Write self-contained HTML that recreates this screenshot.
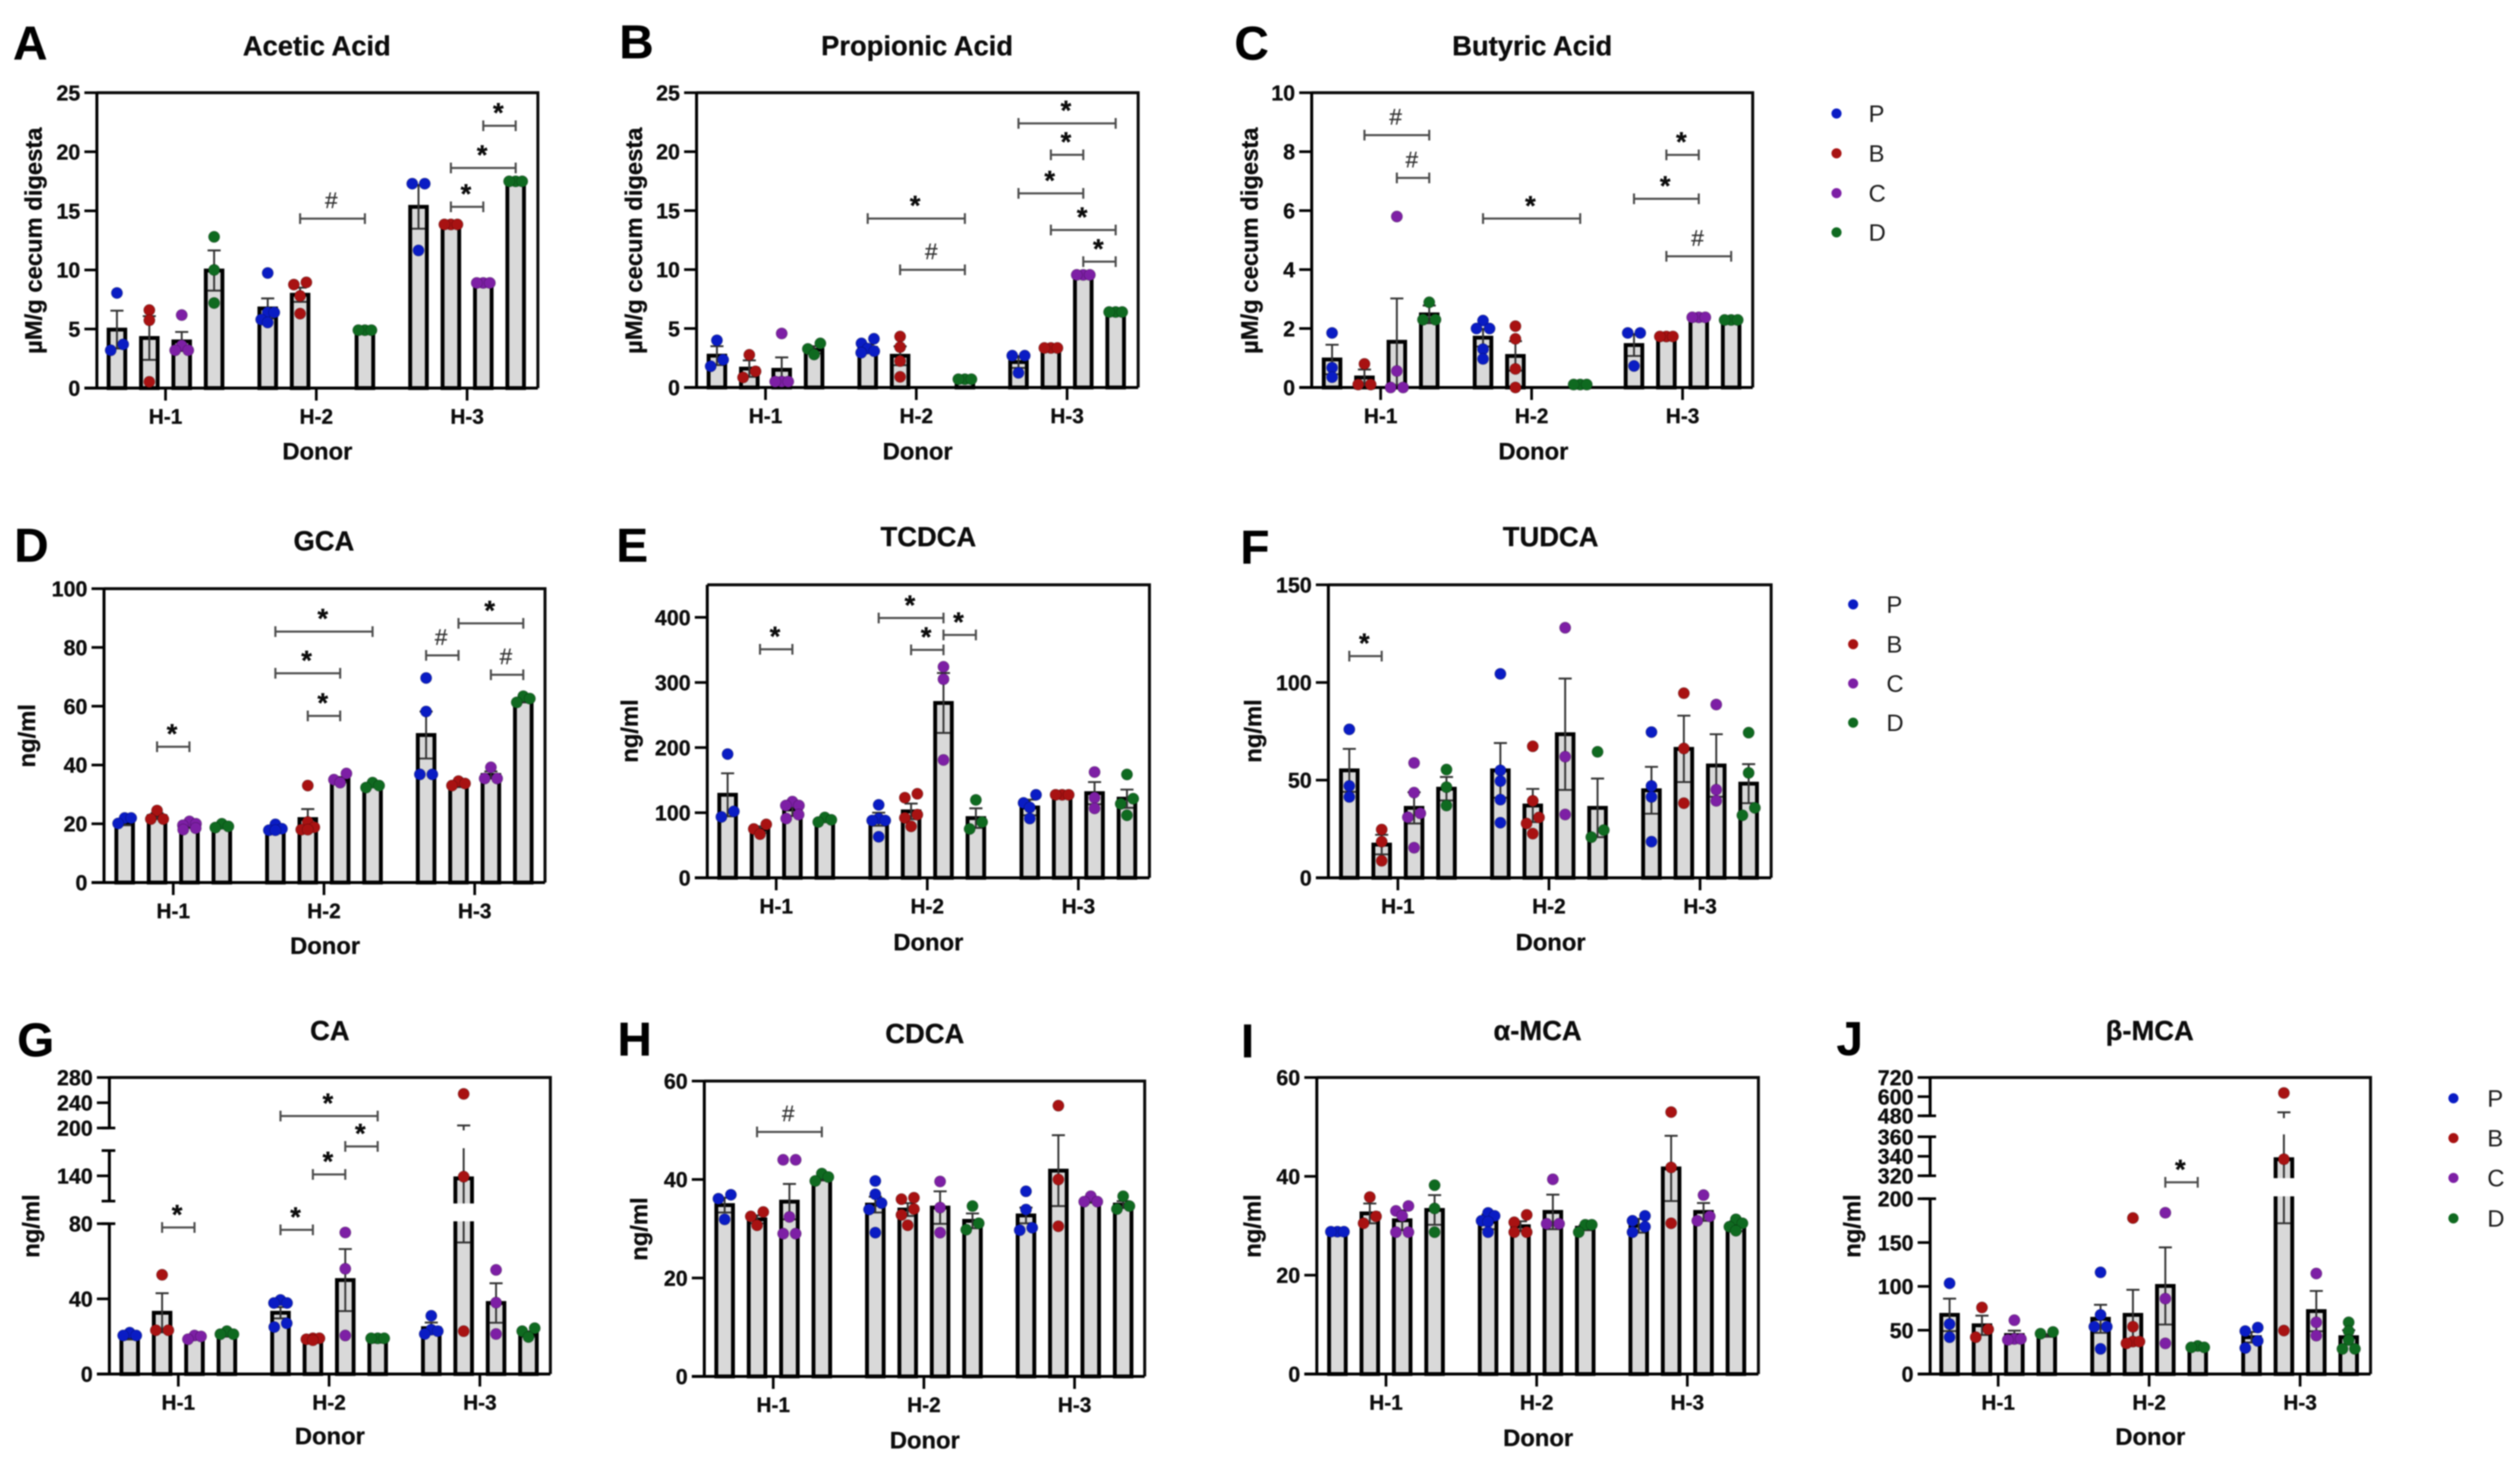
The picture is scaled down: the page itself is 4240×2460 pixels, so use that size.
<!DOCTYPE html>
<html lang="en">
<head>
<meta charset="utf-8">
<title>Cecal metabolites by donor</title>
<style>
html,body{margin:0;padding:0;background:#fff;}
svg{display:block;filter:blur(1px);}
text{font-family:"Liberation Sans",sans-serif;fill:#0c0c0c;stroke:#0c0c0c;stroke-width:.5px;}
.title{font-weight:700;font-size:46px;text-anchor:middle;}
.letter{font-weight:700;font-size:80px;fill:#000;}
.xtitle{font-weight:700;font-size:40px;text-anchor:middle;}
.ytitle{font-weight:700;font-size:40px;text-anchor:middle;}
.legend-label{font-size:40px;fill:#1c1c1c;stroke:none;}
</style>
</head>
<body>
<svg id="figure" width="4240" height="2460" viewBox="0 0 4240 2460" xmlns="http://www.w3.org/2000/svg">
<rect width="4240" height="2460" fill="#fff"/>
<defs id="clip-defs"></defs>

<g id="panel-a">
<text class="letter" x="22" y="100">A</text>
<text class="title" x="533" y="93">Acetic Acid</text>
<text class="ytitle" transform="translate(70,405) rotate(-90)">µM/g cecum digesta</text>
<text class="xtitle" x="534" y="773">Donor</text>
</g>
<g id="panel-b">
<text class="letter" x="1042" y="98">B</text>
<text class="title" x="1543" y="93">Propionic Acid</text>
<text class="ytitle" transform="translate(1080,405) rotate(-90)">µM/g cecum digesta</text>
<text class="xtitle" x="1544" y="773">Donor</text>
</g>
<g id="panel-c">
<text class="letter" x="2077" y="100">C</text>
<text class="title" x="2578" y="93">Butyric Acid</text>
<text class="ytitle" transform="translate(2116,405) rotate(-90)">µM/g cecum digesta</text>
<text class="xtitle" x="2580" y="773">Donor</text>
</g>
<g id="panel-d">
<text class="letter" x="24" y="945">D</text>
<text class="title" x="545" y="926">GCA</text>
<text class="ytitle" transform="translate(59,1238) rotate(-90)">ng/ml</text>
<text class="xtitle" x="547" y="1605">Donor</text>
</g>
<g id="panel-e">
<text class="letter" x="1037" y="945">E</text>
<text class="title" x="1562" y="919">TCDCA</text>
<text class="ytitle" transform="translate(1073,1230) rotate(-90)">ng/ml</text>
<text class="xtitle" x="1562" y="1599">Donor</text>
</g>
<g id="panel-f">
<text class="letter" x="2087" y="948">F</text>
<text class="title" x="2609" y="919">TUDCA</text>
<text class="ytitle" transform="translate(2122,1230) rotate(-90)">ng/ml</text>
<text class="xtitle" x="2609" y="1599">Donor</text>
</g>
<g id="panel-g">
<text class="letter" x="29" y="1777">G</text>
<text class="title" x="555" y="1750">CA</text>
<text class="ytitle" transform="translate(66,2063) rotate(-90)">ng/ml</text>
<text class="xtitle" x="555" y="2430">Donor</text>
</g>
<g id="panel-h">
<text class="letter" x="1039" y="1776">H</text>
<text class="title" x="1556" y="1755">CDCA</text>
<text class="ytitle" transform="translate(1089,2068) rotate(-90)">ng/ml</text>
<text class="xtitle" x="1556" y="2437">Donor</text>
</g>
<g id="panel-i">
<text class="letter" x="2088" y="1779">I</text>
<text class="title" x="2587" y="1750">α-MCA</text>
<text class="ytitle" transform="translate(2121,2063) rotate(-90)">ng/ml</text>
<text class="xtitle" x="2588" y="2433">Donor</text>
</g>
<g id="panel-j">
<text class="letter" x="3090" y="1775">J</text>
<text class="title" x="3617" y="1750">β-MCA</text>
<text class="ytitle" transform="translate(3130,2063) rotate(-90)">ng/ml</text>
<text class="xtitle" x="3618" y="2431">Donor</text>
</g>

<g>
<g><circle cx="3090" cy="191" r="8.5" fill="#0a1cc4"/><text class="legend-label" x="3144" y="205">P</text></g>
<g><circle cx="3090" cy="258" r="8.5" fill="#a81212"/><text class="legend-label" x="3144" y="272">B</text></g>
<g><circle cx="3090" cy="325" r="8.5" fill="#7d1fa5"/><text class="legend-label" x="3144" y="339">C</text></g>
<g><circle cx="3090" cy="391" r="8.5" fill="#0f6a20"/><text class="legend-label" x="3144" y="405">D</text></g>
</g>
<g>
<g><circle cx="3118" cy="1017" r="8.5" fill="#0a1cc4"/><text class="legend-label" x="3174" y="1031">P</text></g>
<g><circle cx="3118" cy="1084" r="8.5" fill="#a81212"/><text class="legend-label" x="3174" y="1098">B</text></g>
<g><circle cx="3118" cy="1150" r="8.5" fill="#7d1fa5"/><text class="legend-label" x="3174" y="1164">C</text></g>
<g><circle cx="3118" cy="1216" r="8.5" fill="#0f6a20"/><text class="legend-label" x="3174" y="1230">D</text></g>
</g>
<g>
<g><circle cx="4128" cy="1848" r="8.5" fill="#0a1cc4"/><text class="legend-label" x="4185" y="1862">P</text></g>
<g><circle cx="4128" cy="1915" r="8.5" fill="#a81212"/><text class="legend-label" x="4185" y="1929">B</text></g>
<g><circle cx="4128" cy="1982" r="8.5" fill="#7d1fa5"/><text class="legend-label" x="4185" y="1996">C</text></g>
<g><circle cx="4128" cy="2050" r="8.5" fill="#0f6a20"/><text class="legend-label" x="4185" y="2064">D</text></g>
</g>
</svg>

<script>
// Shared categories
const donors = ['H-1', 'H-2', 'H-3'];
const treatments = ['P', 'B', 'C', 'D'];

// A: Acetic Acid
const aceticTicks = [0, 5, 10, 15, 20, 25];
const aceticMeans = [4.95, 4.24, 3.95, 9.95, 6.74, 7.9, null, 4.8, 15.34, 13.76, 8.9, 17.45];
const aceticErrors = [1.6, 1.85, 0.8, 1.7, 0.85, 0.6, 0, 0.05, 1.85, 0.05, 0.05, 0.05];
const aceticPoints = [[8.05, 3.7, 3.2], [6.6, 5.74, 0.53], [6.18, 3.6, 3.2, 3.2], [12.8, 10, 7.2], [9.74, 6.4, 6.4, 5.8, 5.55], [8.95, 8.76, 7.8, 6.3], [], [4.9, 4.9, 4.9], [17.3, 17.3, 11.65], [13.85, 13.85, 13.85], [8.9, 8.9, 8.9], [17.5, 17.5, 17.5]];
const aceticSig = [[5, 7, 14.34, '#'], [9, 10, 15.34, '*'], [9, 11, 18.63, '*'], [10, 11, 22.2, '*']];

// B: Propionic Acid
const propionicTicks = [0, 5, 10, 15, 20, 25];
const propionicMeans = [2.7, 1.6, 1.5, 3.2, 3.35, 2.69, null, 0.66, 2.16, 3.2, 9.54, 6.37];
const propionicErrors = [0.8, 0.7, 1.05, 0.3, 0.3, 0.8, 0, 0.05, 0.5, 0.05, 0.05, 0.05];
const propionicPoints = [[4, 2.35, 1.8], [2.77, 1.37, 0.85], [4.58, 0.5, 0.5, 0.5], [3.74, 3.27, 2.8], [4.13, 3.74, 3.3, 3.08, 2.95], [4.32, 3.42, 2.24, 0.9], [], [0.7, 0.7, 0.7], [2.7, 2.7, 1.24], [3.35, 3.35, 3.35], [9.55, 9.55, 9.55], [6.4, 6.4, 6.4]];
const propionicSig = [[4, 7, 14.33, '*'], [5, 7, 9.98, '#'], [8, 11, 22.4, '*'], [9, 10, 19.73, '*'], [8, 10, 16.46, '*'], [9, 11, 13.36, '*'], [10, 11, 10.67, '*']];

// C: Butyric Acid
const butyricTicks = [0, 2, 4, 6, 8, 10];
const butyricMeans = [0.95, 0.34, 1.55, 2.48, 1.69, 1.07, null, 0.1, 1.44, 1.7, 2.36, 2.29];
const butyricErrors = [0.5, 0.27, 1.47, 0.3, 0.3, 0.5, 0, 0.01, 0.37, 0.01, 0.01, 0.01];
const butyricPoints = [[1.85, 0.67, 0.35], [0.8, 0.1, 0.1], [5.8, 0.56, 0, 0], [2.89, 2.3, 2.3], [2.27, 2, 2, 1.3, 0.97], [2.08, 1.65, 0.63, 0], [], [0.1, 0.1, 0.1], [1.85, 1.85, 0.73], [1.73, 1.73, 1.73], [2.38, 2.38, 2.38], [2.29, 2.29, 2.29]];
const butyricSig = [[1, 3, 8.56, '#'], [2, 3, 7.11, '#'], [4, 7, 5.73, '*'], [9, 10, 7.89, '*'], [8, 10, 6.4, '*'], [9, 11, 4.45, '#']];

// D: GCA
const gcaTicks = [0, 20, 40, 60, 80, 100];
const gcaMeans = [20.1, 22.6, 19.1, 18.9, 18, 21.6, 35, 33, 50.2, 33, 36.6, 61.9];
const gcaErrors = [0.6, 1, 0.5, 0.4, 0.4, 3.4, 0.9, 0.5, 8, 0.5, 1.2, 0.6];
const gcaPoints = [[21.96, 21.96, 20.1], [24.5, 21.6, 21.6], [20.8, 20, 19.5, 18.5, 18], [20, 19.1, 18.7], [19.8, 18.3, 17.8, 17.8], [33, 20.6, 18.8, 18, 18], [37.1, 35, 34], [34, 33, 32.3], [69.6, 58.2, 36.8, 36.8], [34.5, 33.7, 33], [39.2, 35.4, 35.4], [63.4, 62.6, 61.3]];
const gcaSig = [[1, 2, 46.2, '*'], [4, 7, 85.4, '*'], [4, 6, 71.2, '*'], [5, 6, 56.7, '*'], [8, 9, 77.3, '#'], [9, 11, 88.2, '*'], [10, 11, 70.7, '#']];

// E: TCDCA
const tcdcaTicks = [0, 100, 200, 300, 400];
const tcdcaMeans = [127.5, 74, 105, 88, 90, 102, 268.5, 91.7, 108, 127.5, 130, 121.5];
const tcdcaErrors = [33, 5, 10, 2, 10, 12, 46, 15, 12, 1, 17, 14];
const tcdcaPoints = [[190, 102, 93.5], [82, 75, 67], [117, 111, 111, 97, 91], [92.6, 89, 85.6], [112, 91, 88, 88, 63], [129, 123, 97, 92, 79], [324, 305, 181], [119.6, 85.6, 75], [127.5, 115, 108, 91], [127.5, 127.5, 127.5], [162.4, 123, 106.6], [158.7, 121.5, 113.5, 96]];
const tcdcaSig = [[1, 2, 351, '*'], [4, 6, 399, '*'], [5, 6, 350, '*'], [6, 7, 373, '*']];

// F: TUDCA
const tudcaTicks = [0, 50, 100, 150];
const tudcaMeans = [55, 17, 35.8, 45.6, 55, 37, 73.5, 35.8, 44.8, 66, 57.5, 48.2];
const tudcaErrors = [11, 5, 8, 6, 14, 8.5, 28.5, 15, 12, 17, 16, 10];
const tudcaPoints = [[76, 47, 41.4], [24.7, 18.5, 8.7], [58.8, 43.6, 33, 31, 15.4], [55.4, 46.4, 37], [104.4, 55, 49.5, 40, 28.2], [67.3, 39.4, 30.9, 27.8, 22.6], [128, 62, 32.4], [64.5, 24.4, 20.8], [74.6, 47, 41.4, 18.5], [94.5, 66.2, 38.2], [88.7, 45.1, 39.4], [74.3, 53.7, 35.8, 32]];
const tudcaSig = [[0, 1, 113.5, '*']];

// G: CA
const caTicks = [0, 40, 80, 140, 200, 240, 280];
const caMeans = [19, 32.6, 19, 20.5, 32.6, 17.3, 50, 17.3, 24.4, 137, 37.8, 21.3];
const caErrors = [0.6, 10.4, 0.5, 0.6, 3, 0.4, 16.5, 0.2, 3, 67, 10.5, 1.4];
const caPoints = [[22, 20.5, 20.5], [52.8, 23.3, 23.3], [20.5, 20, 18.5], [22.8, 21.2, 21.2], [39.4, 37.8, 37.8, 27, 25], [19, 19, 18.5, 18], [75.3, 56, 20.5], [19, 19, 19], [31, 23.6, 22.8, 21.3], [254, 139, 22.8], [55.4, 38, 21.3], [24.4, 22.8, 19.7]];
const caSig = [[1, 2, 78, '*'], [4, 5, 76.7, '*'], [4, 7, 219, '*'], [6, 7, 175.5, '*'], [5, 6, 141.7, '*']];

// H: CDCA
const cdcaTicks = [0, 20, 40, 60];
const cdcaMeans = [34.8, 31.9, 35.5, 40.2, 34.9, 33.9, 34.3, 31.6, 32.7, 41.8, 35.7, 34.9];
const cdcaErrors = [1.5, 0.8, 3.6, 0.4, 1.6, 1.3, 3.3, 1.5, 1.6, 7.2, 0.4, 0.7];
const cdcaPoints = [[36.9, 36.1, 31.9], [33.4, 32.5, 30.7], [44, 44, 32.4, 29, 29], [41.2, 40.5, 39.7], [39.7, 37, 35.2, 33.9, 29.2], [36.3, 36, 34, 32.8, 30.7], [39.6, 34.3, 29.2], [34.6, 31.1, 29.8], [37.6, 33.9, 30.2, 29.7], [55, 40, 30.5], [36.6, 35.5, 35.5], [36.6, 34.6, 34]];
const cdcaSig = [[1, 3, 49.66, '#']];

// I: alpha-MCA
const alphaTicks = [0, 20, 40, 60];
const alphaMeans = [28.7, 32.5, 31.1, 33.2, 30.8, 29.9, 32.8, 29.6, 30, 41.6, 32.8, 29.9];
const alphaErrors = [0.1, 2, 2, 3, 1.5, 1, 3.5, 0.5, 1.4, 6.6, 1.8, 1];
const alphaPoints = [[28.8, 28.8, 28.8], [35.8, 31.9, 30.5], [34, 33, 32, 28.7, 28.7], [38.2, 33.5, 28.7], [32.6, 32, 31, 30.8, 28.7], [32.2, 30.7, 28.7, 28.7], [39.4, 30.4, 30.4], [30.2, 30.2, 28.7], [32, 31, 29.8, 28.7], [53, 41.8, 30.5], [36.2, 31.9, 31], [31.3, 30.5, 29.8, 29]];
const alphaSig = [];

// J: beta-MCA
const betaTicks = [0, 50, 100, 150, 200, 320, 340, 360, 480, 600, 720];
const betaMeans = [67.5, 55.6, 44.5, 44, 63, 67.5, 100.5, 31, 42, 337, 71.8, 42];
const betaErrors = [18.5, 11, 5, 1.5, 16, 28.6, 44, 1, 6, 165, 23, 8];
const betaPoints = [[103.5, 57, 42], [75.9, 51, 42], [61.4, 40, 40, 39], [48, 46], [116, 67.5, 54, 54, 28.7], [178, 54, 37, 37, 35], [184, 86, 35], [32, 30.4, 30.4], [53, 49, 37.8, 29.7], [623, 337, 49.6], [114.7, 59, 43.8], [59, 49, 38.8, 28.7, 28.7]];
const betaSig = [[6, 7, 285.7, '*']];

// Treatment colours
const treatmentColors = ['#0a1cc4', '#a81212', '#7d1fa5', '#0f6a20'];

// Layout of each chart (pixels) and its axis scale
const panels = [
  {id: 'a', left: 163, right: 905, tick1: 278.5, step: 253.7, segs: [{v0: 0, v1: 25, y0: 653, y1: 156}], ticks: aceticTicks, means: aceticMeans, errors: aceticErrors, points: aceticPoints, sig: aceticSig},
  {id: 'b', left: 1172, right: 1915, tick1: 1288, step: 253.7, segs: [{v0: 0, v1: 25, y0: 652, y1: 156}], ticks: propionicTicks, means: propionicMeans, errors: propionicErrors, points: propionicPoints, sig: propionicSig},
  {id: 'c', left: 2207, right: 2949, tick1: 2323, step: 254, segs: [{v0: 0, v1: 10, y0: 652, y1: 156}], ticks: butyricTicks, means: butyricMeans, errors: butyricErrors, points: butyricPoints, sig: butyricSig},
  {id: 'd', left: 175, right: 917, tick1: 291.5, step: 253.6, segs: [{v0: 0, v1: 100, y0: 1485, y1: 990.5}], ticks: gcaTicks, means: gcaMeans, errors: gcaErrors, points: gcaPoints, sig: gcaSig},
  {id: 'e', left: 1190, right: 1934, tick1: 1306, step: 254.2, segs: [{v0: 0, v1: 450, y0: 1477, y1: 984}], ticks: tcdcaTicks, means: tcdcaMeans, errors: tcdcaErrors, points: tcdcaPoints, sig: tcdcaSig},
  {id: 'f', left: 2235, right: 2980, tick1: 2352, step: 254.2, segs: [{v0: 0, v1: 150, y0: 1477, y1: 984}], ticks: tudcaTicks, means: tudcaMeans, errors: tudcaErrors, points: tudcaPoints, sig: tudcaSig},
  {id: 'g', left: 184, right: 926, tick1: 300, step: 253.7, segs: [{v0: 0, v1: 80, y0: 2312, y1: 2059}, {v0: 110, v1: 170, y0: 2021, y1: 1936}, {v0: 200, v1: 280, y0: 1898, y1: 1813}], ticks: caTicks, means: caMeans, errors: caErrors, points: caPoints, sig: caSig},
  {id: 'h', left: 1185, right: 1926, tick1: 1301, step: 253.5, segs: [{v0: 0, v1: 60, y0: 2316, y1: 1819}], ticks: cdcaTicks, means: cdcaMeans, errors: cdcaErrors, points: cdcaPoints, sig: cdcaSig},
  {id: 'i', left: 2215.6, right: 2958.6, tick1: 2332, step: 253.5, segs: [{v0: 0, v1: 60, y0: 2312, y1: 1813}], ticks: alphaTicks, means: alphaMeans, errors: alphaErrors, points: alphaPoints, sig: alphaSig},
  {id: 'j', left: 3247.5, right: 3988.5, tick1: 3362, step: 254, segs: [{v0: 0, v1: 200, y0: 2312, y1: 2017}, {v0: 320, v1: 360, y0: 1978.4, y1: 1912.8}, {v0: 480, v1: 720, y0: 1877.5, y1: 1813}], ticks: betaTicks, means: betaMeans, errors: betaErrors, points: betaPoints, sig: betaSig}
];

const NS = 'http://www.w3.org/2000/svg';
const BAR_STEP = 54.5, BAR_W = 28, DOT_R = 9.5;

function svgEl(tag, attrs, parent) {
  const el = document.createElementNS(NS, tag);
  for (const k in attrs) el.setAttribute(k, attrs[k]);
  if (parent) parent.appendChild(el);
  return el;
}

// Piecewise axis function: linear inside a segment, and across a break between segments
function makeY(segs) {
  return function (v) {
    for (let i = 0; i < segs.length; i++) {
      const s = segs[i];
      if (v <= s.v1 || i === segs.length - 1) {
        if (v >= s.v0 || i === 0) return s.y0 + (v - s.v0) / (s.v1 - s.v0) * (s.y1 - s.y0);
        const p = segs[i - 1];
        return p.y1 + (v - p.v1) / (s.v0 - p.v1) * (s.y0 - p.y1);
      }
    }
  };
}

// Bee-swarm offsets computed from the values' pixel positions:
// a pair puts the higher dot on the right; a triple puts highest centre, next right, lowest left.
function swarm(values, y) {
  const sorted = values.slice().sort(function (a, b) { return b - a; });
  const out = [];
  let cluster = [];
  function flush() {
    const n = cluster.length;
    cluster.forEach(function (v, i) {
      let dx = 0;
      if (n === 2) dx = i === 0 ? 10.5 : -10.5;
      if (n === 3) dx = i === 0 ? 0 : (i === 1 ? 11 : -11);
      out.push({v: v, dx: dx});
    });
    cluster = [];
  }
  sorted.forEach(function (v) {
    if (cluster.length && (Math.abs(y(v) - y(cluster[0])) > 14 || cluster.length >= 3)) flush();
    cluster.push(v);
  });
  if (cluster.length) flush();
  return out;
}

function drawPanel(p) {
  const root = document.getElementById('panel-' + p.id);
  const y = makeY(p.segs);
  const top = p.segs[p.segs.length - 1].y1;
  const bottom = p.segs[0].y0;
  const barX = function (i) {
    const g = Math.floor(i / 4), k = i % 4;
    return p.tick1 + g * p.step + (k - 1.5) * BAR_STEP;
  };

  // clip for broken axes
  const clipId = 'clip-' + p.id;
  const clip = svgEl('clipPath', {id: clipId}, document.getElementById('clip-defs'));
  p.segs.forEach(function (s) {
    svgEl('rect', {x: p.left, y: s.y1 - 4, width: p.right - p.left, height: s.y0 - s.y1 + 8}, clip);
  });

  const barsG = svgEl('g', {'clip-path': 'url(#' + clipId + ')'}, root);
  
  

  p.means.forEach(function (m, i) {
    if (m === null) return;
    const x = barX(i);
    const bar = svgEl('rect', {x: x - BAR_W / 2, y: y(m), width: BAR_W, height: bottom - y(m), fill: '#d9d9d9', stroke: '#000', 'stroke-width': 6.5}, barsG);
    
    

    const e = p.errors[i];
    if (e > 0) {
      const yU = y(m + e), yL = y(m - e);
      const err = svgEl('path', {d: 'M' + x + ' ' + yL + 'V' + yU + 'M' + (x - 11) + ' ' + yU + 'H' + (x + 11) + 'M' + (x - 11) + ' ' + yL + 'H' + (x + 11), fill: 'none', stroke: '#333', 'stroke-width': 3.2}, barsG);
      
      
    }
  });

  // frame and axes
  const frame = svgEl('path', {d: 'M' + p.left + ' ' + top + 'H' + p.right + 'V' + bottom, fill: 'none', stroke: '#0a0a0a', 'stroke-width': 5}, root);
  
  

  const xAxis = svgEl('line', {x1: p.left - 21, x2: p.right, y1: bottom, y2: bottom, stroke: '#000', 'stroke-width': 5}, root);
  
  

  p.segs.forEach(function (s, i) {
    const seg = svgEl('line', {x1: p.left, x2: p.left, y1: s.y0, y2: s.y1, stroke: '#000', 'stroke-width': 5}, root);
    
    
    if (p.segs.length > 1) {
      if (i > 0) {
        const capLow = svgEl('line', {x1: p.left - 13, x2: p.left + 10, y1: s.y0, y2: s.y0, stroke: '#000', 'stroke-width': 4.5}, root);
        
        
      }
      if (i < p.segs.length - 1) {
        const capHigh = svgEl('line', {x1: p.left - 13, x2: p.left + 10, y1: s.y1, y2: s.y1, stroke: '#000', 'stroke-width': 4.5}, root);
        
        
      }
    }
  });

  p.ticks.forEach(function (t) {
    const ty = y(t);
    const tick = svgEl('line', {x1: p.left - 21, x2: p.left, y1: ty, y2: ty, stroke: '#000', 'stroke-width': 4.5}, root);
    
    
    const label = svgEl('text', {x: p.left - 28, y: ty + 13, 'text-anchor': 'end', 'font-size': 36, 'font-weight': 700}, root);
    label.textContent = String(t);
    
    
  });

  donors.forEach(function (d, g) {
    const tx = p.tick1 + g * p.step;
    const tick = svgEl('line', {x1: tx, x2: tx, y1: bottom, y2: bottom + 21, stroke: '#000', 'stroke-width': 4.5}, root);
    
    
    const label = svgEl('text', {x: tx, y: bottom + 60, 'text-anchor': 'middle', 'font-size': 35, 'font-weight': 700}, root);
    label.textContent = d;
    
    
  });

  // individual data points
  p.points.forEach(function (vals, i) {
    const x = barX(i);
    swarm(vals, y).forEach(function (pt) {
      const dot = svgEl('circle', {cx: x + pt.dx, cy: y(pt.v), r: DOT_R, fill: treatmentColors[i % 4], stroke: 'rgba(0,0,0,.3)', 'stroke-width': 1}, root);
      
      
    });
  });

  // significance brackets
  p.sig.forEach(function (s) {
    const x1 = barX(s[0]), x2 = barX(s[1]), by = y(s[2]);
    const br = svgEl('path', {d: 'M' + x1 + ' ' + (by - 9) + 'V' + (by + 9) + 'M' + x1 + ' ' + by + 'H' + x2 + 'M' + x2 + ' ' + (by - 9) + 'V' + (by + 9), fill: 'none', stroke: '#4c4c4c', 'stroke-width': 3.5}, root);
    
    
    const isStar = s[3] === '*';
    const mark = svgEl('text', {x: (x1 + x2) / 2 - 2, y: isStar ? by - 6 : by - 18, 'text-anchor': 'middle', 'font-size': isStar ? 46 : 38, 'font-weight': isStar ? 700 : 400, style: isStar ? '' : 'fill:#333;stroke:#333;stroke-width:.4px'}, root);
    mark.textContent = s[3];
    
    
  });
}

panels.forEach(drawPanel);
</script>
</body>
</html>
